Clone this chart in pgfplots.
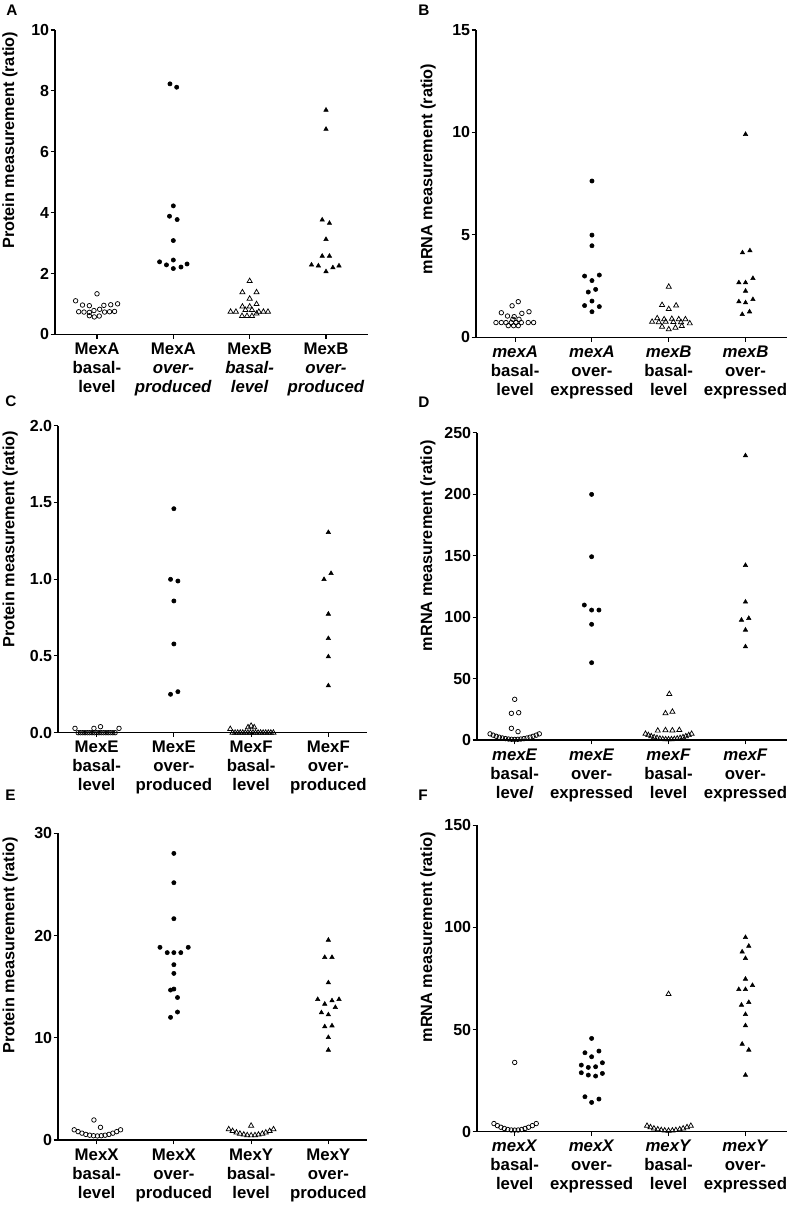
\documentclass[border=0pt]{standalone}
\usepackage{fontspec}
\setmainfont{Liberation Sans}
\usepackage{pgfplots}
\pgfplotsset{compat=1.18}
\pgfplotsset{
  panel/.style={
    scale only axis, anchor=south west,
    axis lines=left, axis line style={-, line width=0.8pt},
    tick align=outside, major tick length=3.2pt,
    tick style={line width=0.8pt, black},
    xtick={0,1,2,3}, ymin=0, clip=false,
    /pgf/number format/assume math mode=true,
    yticklabel style={font=\fontsize{12}{14}\selectfont\bfseries, inner sep=0.5pt, xshift=-0.5pt},
    xticklabel style={font=\fontsize{12.6}{14.3}\selectfont\bfseries, align=center, inner sep=1pt, yshift=-2pt},
    ylabel style={font=\fontsize{12.2}{14}\selectfont\bfseries, at={(axis description cs:-0.155,0.635)}, anchor=center},
  },
  oc/.style={only marks, mark=o, mark size=1.7pt, mark options={line width=0.55pt, black}},
  fc/.style={only marks, mark=*, mark size=1.6pt, black},
  ot/.style={only marks, mark=triangle, mark size=2.2pt, mark options={line width=0.55pt, black}},
  ft/.style={only marks, mark=triangle*, mark size=1.9pt, black},
}
\begin{document}
\begin{tikzpicture}
\useasboundingbox (0,0) rectangle (592.5pt,-903.75pt);
\tikzset{lett/.style={anchor=north west, inner sep=0pt, font=\fontsize{11.5}{13}\selectfont\bfseries}}
\node[lett] at (4.5pt,-3.75pt) {A};
\node[lett] at (313.5pt,-3.75pt) {B};
\node[lett] at (3.75pt,-296.5pt) {C};
\node[lett] at (313.5pt,-297.5pt) {D};
\node[lett] at (3.75pt,-592.5pt) {E};
\node[lett] at (313.5pt,-592.5pt) {F};

% ---------------- A
\begin{axis}[panel, at={(41.25pt,-250.7pt)}, width=234.75pt, height=228.2pt,
  xmin=-0.55, xmax=3.55, ymax=10, ytick={0,2,4,6,8,10},
  ylabel={Protein measurement (ratio)},
  ylabel style={at={(axis description cs:-0.144,0.638)}},
  xticklabels={{MexA\\basal-\\level},{MexA\\\textit{over-}\\\textit{produced}},{MexB\\\textit{basal-}\\\textit{level}},{MexB\\\textit{over-}\\\textit{produced}}}]
\addplot[oc] coordinates {(0,1.33)(-0.28,1.10)(-0.19,0.96)(-0.10,0.94)(0.09,0.95)(0.18,0.97)(0.27,1.00)(0.035,0.82)(-0.04,0.78)(-0.24,0.74)(-0.17,0.73)(-0.10,0.72)(0.10,0.73)(0.165,0.74)(0.23,0.75)(-0.10,0.61)(-0.035,0.57)(0.03,0.60)};
\addplot[fc] coordinates {(0.956,8.23)(1.044,8.12)(1,4.22)(0.95,3.88)(1.05,3.77)(1,3.08)(1,2.44)(0.82,2.38)(0.91,2.28)(1,2.16)(1.10,2.21)(1.18,2.31)};
\addplot[ot] coordinates {(2,1.75)(1.905,1.38)(2.09,1.38)(2,1.17)(2.09,0.99)(1.905,0.91)(2,0.91)(1.75,0.74)(1.82,0.74)(1.945,0.80)(2.03,0.80)(2.12,0.74)(2.18,0.74)(2.24,0.74)(1.90,0.60)(1.965,0.60)(2.03,0.60)(2.09,0.68)};
\addplot[ft] coordinates {(3,7.37)(3,6.74)(2.95,3.76)(3.045,3.65)(3,3.12)(2.95,2.57)(3.045,2.57)(2.81,2.28)(2.90,2.25)(3,2.06)(3.09,2.19)(3.17,2.25)};
\end{axis}

% ---------------- B
\begin{axis}[panel, at={(357pt,-253pt)}, width=233.25pt, height=230.5pt,
  xmin=-0.51, xmax=3.54, ymax=15, ytick={0,5,10,15},
  ylabel={mRNA measurement (ratio)},
  ylabel style={at={(axis description cs:-0.154,0.548)}},
  xticklabels={{\textit{mexA}\\basal-\\level},{\textit{mexA}\\over-\\expressed},{\textit{mexB}\\basal-\\level},{\textit{mexB}\\over-\\expressed}}]
\addplot[oc] coordinates {(0.04,1.74)(-0.04,1.54)(-0.18,1.20)(0.18,1.25)(0.087,1.17)(-0.10,1.04)(-0.013,1.01)(-0.03,0.88)(0.05,0.88)(-0.25,0.72)(-0.18,0.72)(-0.12,0.72)(-0.05,0.72)(0.01,0.72)(0.08,0.72)(0.17,0.72)(0.24,0.72)(-0.09,0.57)(-0.02,0.57)(0.04,0.57)};
\addplot[fc] coordinates {(1,7.63)(1,4.99)(1,4.47)(0.904,2.99)(1.096,3.04)(1,2.77)(1.048,2.34)(0.952,2.21)(1,1.77)(0.904,1.55)(1.096,1.50)(1,1.25)};
\addplot[ot] coordinates {(2,2.47)(1.913,1.58)(2.096,1.55)(2,1.38)(1.85,0.93)(1.94,0.88)(2.04,0.90)(2.13,0.88)(2.217,0.88)(1.783,0.76)(1.87,0.74)(1.96,0.76)(2.06,0.75)(2.16,0.74)(2.274,0.68)(1.913,0.52)(2.17,0.55)(2,0.39)(2.087,0.47)};
\addplot[ft] coordinates {(3,9.91)(2.96,4.13)(3.057,4.23)(2.913,2.67)(3,2.67)(3.096,2.88)(3,2.26)(2.913,1.74)(3,1.69)(3.096,1.85)(2.957,1.12)(3.052,1.25)};
\end{axis}

% ---------------- C
\begin{axis}[panel, at={(43.5pt,-549.5pt)}, width=231.75pt, height=230.25pt,
  xmin=-0.5, xmax=3.5, ymax=2, ytick={0,0.5,1,1.5,2}, yticklabels={0.0,0.5,1.0,1.5,2.0},
  ylabel={Protein measurement (ratio)},
  ylabel style={at={(axis description cs:-0.155,0.63)}},
  xticklabels={{MexE\\basal-\\level},{MexE\\over-\\produced},{MexF\\basal-\\level},{MexF\\over-\\produced}}]
\addplot[oc] coordinates {(-0.28,0.028)(-0.035,0.028)(0.05,0.039)(0.29,0.028)(-0.24,0)(-0.21,0)(-0.18,0)(-0.15,0)(-0.12,0)(-0.09,0)(-0.06,0)(-0.03,0)(0,0)(0.03,0)(0.06,0)(0.09,0)(0.12,0)(0.15,0)(0.18,0)(0.21,0)(0.24,0)};
\addplot[fc] coordinates {(1,1.459)(0.957,0.999)(1.052,0.988)(1,0.858)(1,0.578)(0.957,0.25)(1.052,0.267)};
\addplot[ot] coordinates {(1.73,0.024)(1.96,0.035)(2,0.045)(2.04,0.035)(1.76,0)(1.793,0)(1.826,0)(1.859,0)(1.892,0)(1.925,0)(1.958,0)(1.991,0)(2.024,0)(2.057,0)(2.09,0)(2.123,0)(2.156,0)(2.189,0)(2.222,0)(2.255,0)(2.288,0)};
\addplot[ft] coordinates {(3,1.305)(3.035,1.038)(2.944,0.999)(3,0.773)(3,0.614)(3,0.495)(3,0.306)};
\end{axis}

% ---------------- D
\begin{axis}[panel, at={(357.75pt,-555pt)}, width=232.5pt, height=230.5pt,
  xmin=-0.49, xmax=3.54, ymax=250, ytick={0,50,100,150,200,250},
  ylabel={mRNA measurement (ratio)},
  ylabel style={at={(axis description cs:-0.158,0.632)}},
  xticklabels={{\textit{mexE}\\basal-\\leve\textit{l}},{\textit{mexE}\\over-\\expressed},{\textit{mexF}\\basal-\\level},{\textit{mexF}\\over-\\expressed}}]
\addplot[oc] coordinates {(0,33.1)(-0.043,21.7)(0.052,22.2)(-0.043,9.5)(0.043,6.8)(-0.32,5.0)(-0.28,3.95)(-0.24,3.03)(-0.20,2.26)(-0.16,1.63)(-0.12,1.13)(-0.08,0.78)(-0.04,0.57)(0,0.5)(0.04,0.57)(0.08,0.78)(0.12,1.13)(0.16,1.63)(0.20,2.26)(0.24,3.03)(0.28,3.95)(0.32,5.0)};
\addplot[fc] coordinates {(1,199.8)(1,149.1)(0.905,109.8)(1,105.7)(1.095,105.7)(1,94.1)(1,62.9)};
\addplot[ot] coordinates {(2.01,37.4)(1.96,21.7)(2.05,23.0)(1.86,7.6)(1.96,8.0)(2.05,7.8)(2.14,8.1)(1.70,5.0)(1.7375,3.95)(1.775,3.03)(1.8125,2.26)(1.85,1.63)(1.8875,1.13)(1.925,0.78)(1.9625,0.57)(2,0.5)(2.0375,0.57)(2.075,0.78)(2.1125,1.13)(2.15,1.63)(2.1875,2.26)(2.225,3.03)(2.2625,3.95)(2.30,5.0)};
\addplot[ft] coordinates {(3,231.3)(3,142.1)(3,112.3)(2.948,97.6)(3.043,99.0)(3,89.5)(3,75.9)};
\end{axis}

% ---------------- E
\begin{axis}[panel, at={(43.5pt,-855pt)}, width=231.75pt, height=230pt,
  xmin=-0.5, xmax=3.5, ymax=30, ytick={0,10,20,30},
  ylabel={Protein measurement (ratio)},
  ylabel style={at={(axis description cs:-0.155,0.635)}},
  xticklabels={{MexX\\basal-\\level},{MexX\\over-\\produced},{MexY\\basal-\\level},{MexY\\over-\\produced}}]
\addplot[oc] coordinates {(-0.035,1.96)(0.05,1.24)(-0.29,1.0)(-0.24,0.82)(-0.19,0.67)(-0.14,0.55)(-0.09,0.47)(-0.04,0.42)(0.01,0.4)(0.06,0.42)(0.11,0.47)(0.16,0.55)(0.21,0.67)(0.26,0.82)(0.31,1.0)};
\addplot[fc] coordinates {(1,28.04)(1,25.17)(1,21.65)(0.82,18.85)(0.914,18.33)(1,18.33)(1.09,18.33)(1.186,18.85)(1,17.15)(1,16.30)(0.957,14.67)(1.0,14.77)(1.047,13.94)(1.047,12.52)(0.957,12.0)};
\addplot[ot] coordinates {(2,1.40)(1.71,1.05)(1.76,0.88)(1.81,0.73)(1.855,0.62)(1.905,0.53)(1.95,0.47)(2,0.45)(2.05,0.47)(2.095,0.53)(2.145,0.62)(2.19,0.73)(2.24,0.88)(2.29,1.05)};
\addplot[ft] coordinates {(3,19.56)(2.953,17.87)(3.047,17.87)(3,15.39)(2.862,13.76)(2.953,13.3)(3.047,13.63)(3.138,13.76)(3.09,12.98)(2.91,12.46)(3,12.26)(2.953,11.09)(3.047,11.18)(3,10.04)(3,8.8)};
\end{axis}

% ---------------- F
\begin{axis}[panel, at={(357.75pt,-848.8pt)}, width=232.5pt, height=230pt,
  xmin=-0.49, xmax=3.54, ymax=150, ytick={0,50,100,150},
  ylabel={mRNA measurement (ratio)},
  ylabel style={at={(axis description cs:-0.158,0.635)}},
  xticklabels={{\textit{mexX}\\basal-\\level},{\textit{mexX}\\over-\\expressed},{\textit{mexY}\\basal-\\level},{\textit{mexY}\\over-\\expressed}}]
\addplot[oc] coordinates {(0,33.9)(-0.27,4.0)(-0.225,3.0)(-0.18,2.2)(-0.135,1.6)(-0.09,1.1)(-0.045,0.85)(0,0.8)(0.045,0.85)(0.09,1.1)(0.135,1.6)(0.18,2.2)(0.23,3.0)(0.28,4.0)};
\addplot[fc] coordinates {(1,45.65)(0.913,38.64)(1.095,39.46)(1,36.68)(0.866,32.6)(0.957,31.47)(1.052,31.8)(1.14,33.75)(0.866,28.86)(0.957,27.72)(1.052,27.23)(1.14,28.53)(0.913,17.12)(1.095,15.98)(1,14.35)};
\addplot[ot] coordinates {(2,67.34)(1.72,2.9)(1.765,2.2)(1.81,1.6)(1.86,1.15)(1.905,0.8)(1.95,0.6)(2,0.5)(2.05,0.6)(2.095,0.8)(2.145,1.15)(2.19,1.6)(2.24,2.2)(2.29,2.9)};
\addplot[ft] coordinates {(3,95.06)(3.043,90.8)(2.957,88.0)(3,84.8)(3,74.7)(2.913,69.6)(3,69.6)(3.091,71.6)(2.948,62.0)(3.043,63.3)(3,57.4)(3,51.9)(2.957,42.9)(3.043,40.0)(3,27.7)};
\end{axis}
\end{tikzpicture}
\end{document}
